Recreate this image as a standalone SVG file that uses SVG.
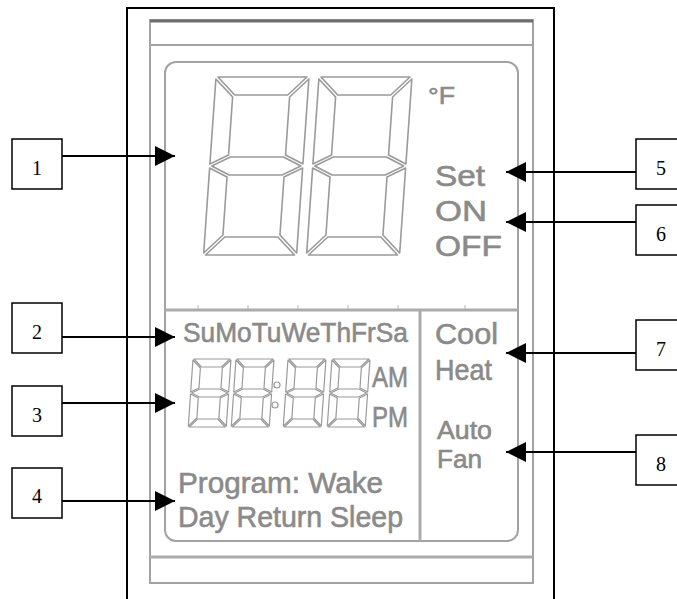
<svg xmlns="http://www.w3.org/2000/svg" width="677" height="599" viewBox="0 0 677 599">
<style>
.frame{fill:none;stroke:#000;stroke-width:2}
.pl{fill:none;stroke:#a3a3a3;stroke-width:2}
.seg{fill:none;stroke:#9a9a9a;stroke-width:1.6;stroke-linejoin:round}
.segs{fill:none;stroke:#9a9a9a;stroke-width:1.2;stroke-linejoin:round}
.lcd{font-family:"Liberation Sans",Arial,sans-serif;fill:#8a8a8a;stroke:#8a8a8a;stroke-width:0.6}
.box{fill:#fff;stroke:#000;stroke-width:1.5}
.num{font-family:"Liberation Serif","Times New Roman",serif;font-size:20px;fill:#000;text-anchor:middle}
.con{stroke:#000;stroke-width:2;fill:none;marker-end:url(#ah)}
</style>
<defs>
<marker id="ah" markerUnits="userSpaceOnUse" markerWidth="20" markerHeight="20" refX="20" refY="10" orient="auto">
<path d="M0,0 L20,10 L0,20 z" fill="#000"/>
</marker>
<g id="bigdigit" class="seg">
<polygon points="2,0 91,0 73,18 20,18"/>
<polygon points="0,2 18,20 18,78 0,87"/>
<polygon points="93,2 75,20 75,78 93,87"/>
<polygon points="2,89 20,80 73,80 91,89 73,98 20,98"/>
<polygon points="0,91 18,100 18,158 0,176"/>
<polygon points="93,91 75,100 75,158 93,176"/>
<polygon points="2,178 91,178 73,160 20,160"/>
</g>
<g id="minidigit" class="segs">
<polygon points="1,0 37,0 29,8 9,8"/>
<polygon points="0,1 8,9 8,29 0,33"/>
<polygon points="38,1 30,9 30,29 38,33"/>
<polygon points="1,34 9,30 29,30 37,34 29,38 9,38"/>
<polygon points="0,35 8,39 8,59 0,67"/>
<polygon points="38,35 30,39 30,59 38,67"/>
<polygon points="1,68 37,68 29,60 9,60"/>
</g>
</defs>
<rect width="677" height="599" fill="#fff"/>
<path class="frame" d="M127,599 V8 H554 V599"/>
<g id="display">
<rect class="pl" x="150" y="20" width="383" height="563"/>
<line x1="150" y1="21" x2="533" y2="21" stroke="#6e6e6e" stroke-width="3"/>
<line class="pl" x1="150" y1="45" x2="533" y2="45"/>
<line x1="150" y1="557" x2="533" y2="557" stroke="#ababab" stroke-width="3"/>
<rect class="pl" x="165" y="62" width="353" height="479" rx="11"/>
<line x1="165" y1="310" x2="518" y2="310" stroke="#ababab" stroke-width="3"/>
<line x1="420" y1="310" x2="420" y2="541" stroke="#ababab" stroke-width="3"/>
<g stroke="#b5b5b5" stroke-width="1">
<line x1="198" y1="305" x2="198" y2="309"/>
<line x1="248" y1="305" x2="248" y2="309"/>
<line x1="298" y1="305" x2="298" y2="309"/>
<line x1="348" y1="305" x2="348" y2="309"/>
<line x1="398" y1="305" x2="398" y2="309"/>
<line x1="465" y1="305" x2="465" y2="309"/>
</g>
<use href="#bigdigit" transform="translate(216,77) skewX(-4)"/>
<use href="#bigdigit" transform="translate(319,77) skewX(-4)"/>
<use href="#minidigit" transform="translate(193,359) skewX(-4)"/>
<use href="#minidigit" transform="translate(236,359) skewX(-4)"/>
<use href="#minidigit" transform="translate(288,359) skewX(-4)"/>
<use href="#minidigit" transform="translate(332,359) skewX(-4)"/>
<circle cx="277" cy="385" r="3" class="segs"/>
<circle cx="275" cy="405" r="3" class="segs"/>
<text class="lcd" x="428" y="104" font-size="24" textLength="27" lengthAdjust="spacingAndGlyphs">°F</text>
<text class="lcd" x="435" y="186" font-size="30" textLength="50" lengthAdjust="spacingAndGlyphs">Set</text>
<text class="lcd" x="435" y="221" font-size="30" textLength="52" lengthAdjust="spacingAndGlyphs">ON</text>
<text class="lcd" x="435" y="256" font-size="30" textLength="67" lengthAdjust="spacingAndGlyphs">OFF</text>
<text class="lcd" x="183" y="342" font-size="27" textLength="225" lengthAdjust="spacingAndGlyphs">SuMoTuWeThFrSa</text>
<text class="lcd" x="372" y="387" font-size="29" textLength="36" lengthAdjust="spacingAndGlyphs">AM</text>
<text class="lcd" x="372" y="427" font-size="29" textLength="36" lengthAdjust="spacingAndGlyphs">PM</text>
<text class="lcd" x="435" y="344" font-size="30" textLength="63" lengthAdjust="spacingAndGlyphs">Cool</text>
<text class="lcd" x="435" y="380" font-size="30" textLength="57" lengthAdjust="spacingAndGlyphs">Heat</text>
<text class="lcd" x="437" y="439" font-size="25" textLength="55" lengthAdjust="spacingAndGlyphs">Auto</text>
<text class="lcd" x="437" y="468" font-size="25" textLength="45" lengthAdjust="spacingAndGlyphs">Fan</text>
<text class="lcd" x="178" y="493" font-size="29" textLength="205" lengthAdjust="spacingAndGlyphs">Program: Wake</text>
<text class="lcd" x="178" y="527" font-size="29" textLength="225" lengthAdjust="spacingAndGlyphs">Day Return Sleep</text>
</g>
<g id="connectors">
<line class="con" x1="62" y1="156" x2="175" y2="156"/>
<line class="con" x1="62" y1="337" x2="175" y2="337"/>
<line class="con" x1="62" y1="403" x2="175" y2="403"/>
<line class="con" x1="62" y1="501" x2="175" y2="501"/>
<line class="con" x1="636" y1="172" x2="506" y2="172"/>
<line class="con" x1="636" y1="222" x2="506" y2="222"/>
<line class="con" x1="636" y1="353" x2="506" y2="353"/>
<line class="con" x1="636" y1="452" x2="506" y2="452"/>
</g>
<g id="label1"><rect class="box" x="12" y="139" width="50" height="50"/><text class="num" x="37" y="175">1</text></g>
<g id="label2"><rect class="box" x="12" y="303" width="50" height="50"/><text class="num" x="37" y="339">2</text></g>
<g id="label3"><rect class="box" x="12" y="386" width="50" height="50"/><text class="num" x="37" y="422">3</text></g>
<g id="label4"><rect class="box" x="12" y="468" width="50" height="50"/><text class="num" x="37" y="503">4</text></g>
<g id="label5"><rect class="box" x="636" y="139" width="50" height="50"/><text class="num" x="661" y="175">5</text></g>
<g id="label6"><rect class="box" x="636" y="205" width="50" height="50"/><text class="num" x="661" y="241">6</text></g>
<g id="label7"><rect class="box" x="636" y="320" width="50" height="50"/><text class="num" x="661" y="356">7</text></g>
<g id="label8"><rect class="box" x="636" y="435" width="50" height="50"/><text class="num" x="661" y="471">8</text></g>
</svg>
